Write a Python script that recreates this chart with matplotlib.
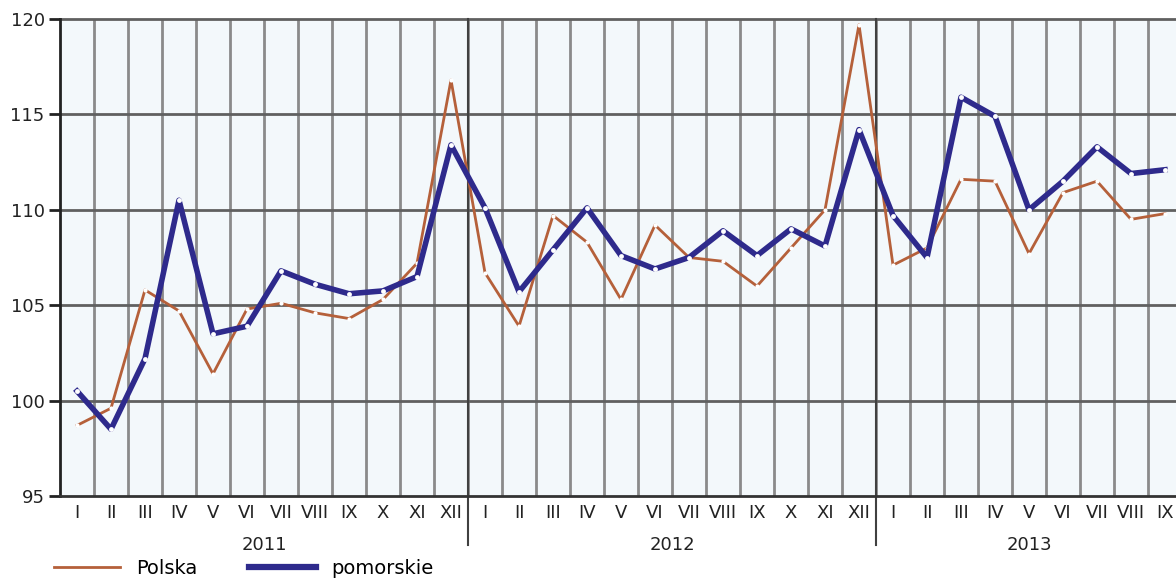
import numpy as np
import matplotlib
matplotlib.use('Agg')
from matplotlib import pyplot as plt
from matplotlib import transforms
from matplotlib.lines import Line2D

plt.rcParams['font.family'] = ['DejaVu Sans']

months = ['I', 'II', 'III', 'IV', 'V', 'VI', 'VII', 'VIII', 'IX', 'X', 'XI', 'XII']
month_labels = months + months + months[:9]
years = ['2011', '2012', '2013']
year_len = [12, 12, 9]

polska = [98.7, 99.6, 105.8, 104.7, 101.4, 104.8, 105.1, 104.6, 104.3, 105.3, 107.2, 116.8,
          106.7, 103.9, 109.7, 108.3, 105.3, 109.2, 107.5, 107.3, 106.0, 108.0, 110.0, 119.7,
          107.1, 108.0, 111.6, 111.5, 107.7, 110.9, 111.5, 109.5, 109.8]
pomorskie = [100.5, 98.5, 102.2, 110.5, 103.5, 103.9, 106.8, 106.1, 105.6, 105.75, 106.5, 113.4,
             110.1, 105.7, 107.9, 110.1, 107.6, 106.9, 107.5, 108.9, 107.6, 109.0, 108.1, 114.2,
             109.7, 107.5, 115.9, 114.9, 110.0, 111.5, 113.3, 111.9, 112.1]

brown = '#b5603a'
navy = '#2e2a8c'

fig = plt.figure(figsize=(11.76, 5.84), dpi=100)
ax = fig.add_axes([60/1176, 88/584, 1116/1176, 477/584])
ax.set_facecolor('#f3f8fb')

n = len(month_labels)
x = np.arange(n) + 0.5

# grid
for b in range(1, n + 1):
    ax.axvline(b, color='#8a8a8a', lw=2, zorder=1)
for v in [100, 105, 110, 115, 120]:
    ax.axhline(v, color='#606060', lw=2, zorder=1, clip_on=False)

# year separators reaching down into the label area
trans = transforms.blended_transform_factory(ax.transData, ax.transAxes)
start = 0
for yr, ln in zip(years, year_len):
    if start > 0:
        ax.plot([start, start], [-0.103, 1], color='#404040', lw=1.5, transform=trans,
                clip_on=False, zorder=2)
    ax.text(start + ln / 2, -0.103, yr, transform=trans, ha='center', va='center',
            fontsize=13, color='#222222')
    start += ln

ax.plot(x, polska, color=brown, lw=2, marker='o', ms=3, mfc='white', mew=0, zorder=3)
ax.plot(x, pomorskie, color=navy, lw=4, marker='o', ms=3.5, mfc='white', mew=0, zorder=4)

ax.set_xlim(0, 1116 / 34)
ax.set_ylim(95, 120)
ax.set_yticks([95, 100, 105, 110, 115, 120])
ax.set_xticks(x)
ax.set_xticklabels(month_labels, fontsize=13, color='#222222')
ax.tick_params(axis='x', length=0, pad=6)
ax.tick_params(axis='y', labelsize=13, length=8, width=2, direction='out', colors='#222222',
               pad=3)

for s in ['top', 'right']:
    ax.spines[s].set_visible(False)
ax.spines['left'].set_color('#222222')
ax.spines['left'].set_linewidth(2)
ax.spines['bottom'].set_color('#333333')
ax.spines['bottom'].set_linewidth(2)

handles = [Line2D([], [], color=brown, lw=2), Line2D([], [], color=navy, lw=4.5)]
ax.legend(handles, ['Polska', 'pomorskie'], loc='center left',
          bbox_to_anchor=(-0.021, -0.152), ncol=2, frameon=False,
          fontsize=14, handlelength=3.4, handletextpad=0.8, columnspacing=2.7)

fig.savefig('out.png', dpi=100, facecolor='white')
